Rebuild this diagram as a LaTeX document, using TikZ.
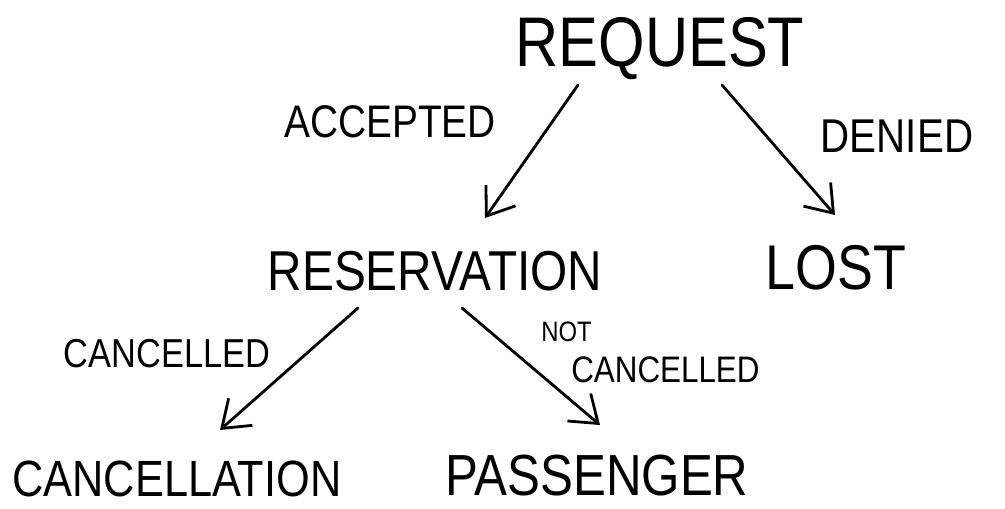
\documentclass[tikz,border=0pt]{standalone}
\usepackage{fontspec}
\newfontfamily\hand[FakeStretch=0.85]{Liberation Sans}
\usepackage{tikz}
\usetikzlibrary{arrows.meta, calc}
\tikzset{
  >={Straight Barb[length=0.5cm, width=0.72cm]}, % open V heads like the sketch
  word/.style={font=\hand\fontsize{#1}{#1}\selectfont, inner sep=0pt, anchor=base}, % every written word
  flow/.style={->, line width=1.6pt, line cap=round, line join=round}, % the arrows between words
}

\begin{document}
\begin{tikzpicture}[x=0.02cm, y=-0.02cm]
      \useasboundingbox (0,0) rectangle (1005,508);
      \node[word=40pt] (request) at (660,66) {REQUEST};
      \node[word=32pt] (reservation) at (435,290) {RESERVATION};
      \node[word=36pt] (lost) at (836,289) {LOST};
      \node[word=29pt] (cancellation) at (177,496) {CANCELLATION};
      \node[word=33pt] (passenger) at (597,495) {PASSENGER};

      \node[word=26pt] (accepted) at (390,137) {ACCEPTED};
      \node[word=27pt] (denied) at (897,152) {DENIED};
      \node[word=23pt] (cancelled) at (167,367) {CANCELLED};
      \node[word=21pt, anchor=north west, align=left] (notcancelled) at (541,322)
        {{\fontsize{16pt}{16pt}\selectfont NOT}\\[2pt]\hspace*{0.6cm}CANCELLED};

      \draw[flow] ($(request.base)+(-82,19)$) -- ($(reservation.base)+(50,-72)$);
      \draw[flow] ($(request.base)+(62,19)$) -- ($(lost.base)+(-1,-74)$);
      \draw[flow] ($(reservation.base)+(-77,18)$) -- ($(cancellation.base)+(43,-66)$);
      \draw[flow] ($(reservation.base)+(27,18)$) -- ($(passenger.base)+(3,-70)$);
    \end{tikzpicture}
\end{document}
